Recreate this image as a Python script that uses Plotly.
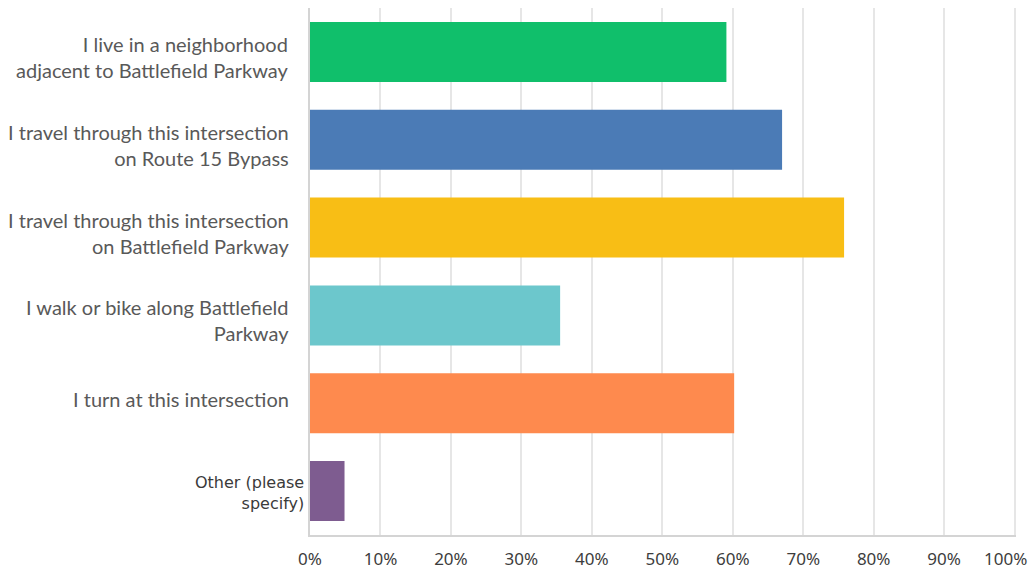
import plotly.graph_objects as go

categories = [
    "I live in a neighborhood<br>adjacent to Battlefield Parkway",
    "I travel through this intersection<br>on Route 15 Bypass",
    "I travel through this intersection<br>on Battlefield Parkway",
    "I walk or bike along Battlefield<br>Parkway",
    "I turn at this intersection",
    "Other (please<br>specify)",
]
values = [59.1, 67.0, 75.8, 35.5, 60.2, 4.9]
colors = ["#10bf6b", "#4b7bb6", "#f8be15", "#6cc7cc", "#fe8a4e", "#7e5c90"]
tick_vals = [0, 10, 20, 30, 40, 50, 60, 70, 80, 90, 100]
tick_text = [f"{v}%" for v in tick_vals]

# last tick label is nudged left (padded) so it stays inside the page, as in the reference
tick_text_drawn = tick_text[:-1] + [tick_text[-1] + "\u00a0" * 4]

fig = go.Figure(go.Bar(
    x=values, y=categories, orientation="h",
    marker=dict(color=colors, line=dict(width=0)),
    hoverinfo="x+y",
))

# category labels drawn as annotations anchored to the category axis
for i, cat in enumerate(categories):
    if i == len(categories) - 1:
        fig.add_annotation(
            x=0, xref="paper", y=cat, yref="y",
            text=cat, showarrow=False,
            xanchor="right", xshift=-4, yshift=-2, align="right",
            font=dict(family="DejaVu Sans", size=16, color="#3a3a3a"),
        )
    else:
        multi = "<br>" in cat
        fig.add_annotation(
            x=0, xref="paper", y=cat, yref="y",
            text=cat, showarrow=False,
            xanchor="right", xshift=-19, yshift=(-5 if multi else 4),
            align="right",
            font=dict(family="Lato", size=20, color="#595959"),
        )

fig.update_layout(
    width=1033, height=570,
    margin=dict(l=310, r=17, t=8, b=35),
    paper_bgcolor="white", plot_bgcolor="white",
    bargap=0.317,
    showlegend=False,
)
fig.update_xaxes(
    range=[0, 100.2], tickvals=tick_vals, ticktext=tick_text_drawn,
    showgrid=True, gridcolor="#e6e6e6", gridwidth=1.5,
    showline=True, linecolor="#d4d4d4", linewidth=2, mirror=False,
    zeroline=False, automargin=False,
    tickfont=dict(family="Noto Sans", size=17, color="#3d3d3d"),
    ticks="", ticklabelstandoff=8, ticklabeloverflow="allow",
)
fig.update_yaxes(
    autorange="reversed",
    showticklabels=False, automargin=False,
    showline=True, linecolor="#d4d4d4", linewidth=2,
    showgrid=False, zeroline=False,
    ticks="",
)

fig.write_html("out.html")
